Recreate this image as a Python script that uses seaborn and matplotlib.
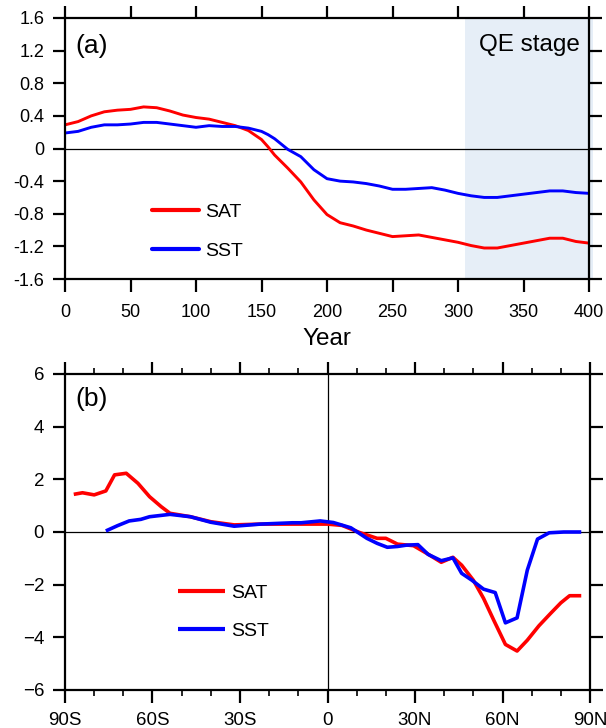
import numpy as np
import pandas as pd
import matplotlib
matplotlib.use("Agg")
import matplotlib.pyplot as plt
import seaborn as sns

# ---------------- data ----------------
years = [0, 10, 20, 30, 40, 50, 60, 70, 80, 90, 100, 110, 120, 130, 140, 150, 155,
         160, 170, 180, 190, 200, 210, 220, 230, 240, 250, 260, 270, 280, 290, 300,
         310, 320, 330, 340, 350, 360, 370, 380, 390, 400]
sat_a = [0.29, 0.33, 0.40, 0.45, 0.47, 0.48, 0.51, 0.50, 0.46, 0.41, 0.38, 0.36, 0.32,
         0.28, 0.22, 0.11, 0.02, -0.08, -0.24, -0.41, -0.63, -0.81, -0.91, -0.95, -1.00,
         -1.04, -1.08, -1.07, -1.06, -1.09, -1.12, -1.15, -1.19, -1.22, -1.22, -1.19,
         -1.16, -1.13, -1.10, -1.10, -1.14, -1.16]
sst_a = [0.19, 0.21, 0.26, 0.29, 0.29, 0.30, 0.32, 0.32, 0.30, 0.28, 0.26, 0.28, 0.27,
         0.27, 0.25, 0.21, 0.17, 0.12, -0.01, -0.10, -0.26, -0.37, -0.40, -0.41, -0.43,
         -0.46, -0.50, -0.50, -0.49, -0.48, -0.51, -0.55, -0.58, -0.60, -0.60, -0.58,
         -0.56, -0.54, -0.52, -0.52, -0.54, -0.55]

lat_sat = [-87, -84, -80, -76, -73, -69, -65, -61, -57, -54, -47, -40, -32, -23, -12, 0,
           5, 11, 17, 20, 24, 29.5, 34, 39, 43, 46, 50, 53.5, 57, 61, 65, 68.5, 72.5,
           76.5, 80, 83, 87]
sat_b = [1.43, 1.49, 1.41, 1.56, 2.17, 2.23, 1.85, 1.34, 0.96, 0.71, 0.58, 0.39, 0.27,
         0.30, 0.30, 0.30, 0.25, -0.02, -0.24, -0.24, -0.46, -0.52, -0.81, -1.15, -0.96,
         -1.26, -1.83, -2.52, -3.35, -4.27, -4.52, -4.11, -3.56, -3.09, -2.69, -2.42, -2.42]
lat_sst = [-76, -72, -68, -64, -61, -54, -47, -40, -32, -23, -12, -9, -2.5, 2, 8, 13.5,
           17, 20.5, 24, 27, 31, 34.5, 39, 43, 46, 49.5, 53.5, 57.5, 61, 65, 68.5, 72,
           76, 81, 87]
sst_b = [0.04, 0.24, 0.42, 0.48, 0.58, 0.67, 0.58, 0.37, 0.22, 0.30, 0.35, 0.35, 0.42,
         0.36, 0.16, -0.24, -0.43, -0.58, -0.55, -0.50, -0.48, -0.85, -1.09, -0.98,
         -1.57, -1.83, -2.17, -2.30, -3.45, -3.26, -1.45, -0.27, -0.03, 0.0, 0.0]

series_names = ["SAT", "SST"]
colors = {"SAT": "#ff0000", "SST": "#0000ff"}
qe_start, qe_end = 305, 403

yticks_a = [1.6, 1.2, 0.8, 0.4, 0, -0.4, -0.8, -1.2, -1.6]
ytick_labels_a = ["1.6", "1.2", "0.8", "0.4", "0", "-0.4", "-0.8", "-1.2", "-1.6"]
xticks_a = [0, 50, 100, 150, 200, 250, 300, 350, 400]
yticks_b = [6, 4, 2, 0, -2, -4, -6]
xticks_b = [-90, -60, -30, 0, 30, 60, 90]
xtick_labels_b = ["90S", "60S", "30S", "0", "30N", "60N", "90N"]

# ---------------- style ----------------
sns.set_theme(style="ticks")
plt.rcParams["font.family"] = ["Liberation Sans", "DejaVu Sans"]
plt.rcParams["text.color"] = "black"
plt.rcParams["axes.labelcolor"] = "black"
plt.rcParams["xtick.color"] = "black"
plt.rcParams["ytick.color"] = "black"

df_a = pd.concat([
    pd.DataFrame({"x": years, "y": sat_a, "var": "SAT"}),
    pd.DataFrame({"x": years, "y": sst_a, "var": "SST"}),
])
df_b = pd.concat([
    pd.DataFrame({"x": lat_sat, "y": sat_b, "var": "SAT"}),
    pd.DataFrame({"x": lat_sst, "y": sst_b, "var": "SST"}),
])

fig = plt.figure(figsize=(6.06, 7.28), dpi=100)
ax1 = fig.add_axes([65/606, 1-279/728, 524/606, 261/728])
ax2 = fig.add_axes([65/606, 1-690/728, 525/606, 316/728])

def style_axes(ax, size, xpad):
    for s in ax.spines.values():
        s.set_linewidth(1.6)
        s.set_color("black")
        s.set_visible(True)
    ax.tick_params(which="major", direction="out", length=9, width=1.6,
                   top=True, right=True, labeltop=False, labelright=False,
                   labelsize=size, colors="black")
    ax.tick_params(axis="x", which="major", pad=xpad)
    ax.tick_params(axis="y", which="major", pad=6)
    ax.tick_params(which="minor", direction="out", length=4.5, width=1.2,
                   top=True, right=True)

# ---- panel (a)
ax1.axvspan(qe_start, qe_end, color="#e6eef7", zorder=0, lw=0, clip_on=False)
sns.lineplot(data=df_a, x="x", y="y", hue="var", palette=colors, hue_order=series_names,
             ax=ax1, linewidth=2.1, estimator=None, sort=True)
ax1.axhline(0, color="black", lw=0.9, zorder=1)
ax1.set_xlim(0, 400)
ax1.set_ylim(-1.6, 1.6)
ax1.set_xticks(xticks_a)
ax1.set_yticks(yticks_a)
ax1.set_yticklabels(ytick_labels_a)
ax1.set_xlabel("Year", fontsize=17.5, labelpad=5)
ax1.set_ylabel("")
style_axes(ax1, 13, 9)
ax1.text(0.02, 0.94, "(a)", transform=ax1.transAxes, fontsize=19, va="top", ha="left")
ax1.text(0.983, 0.94, "QE stage", transform=ax1.transAxes, fontsize=17.5, va="top", ha="right")
leg = ax1.legend(loc="upper left", bbox_to_anchor=(0.166, 0.29), frameon=False,
                 fontsize=14, handlelength=2.4, handletextpad=0.35, labelspacing=1.1,
                 borderpad=0, borderaxespad=0)
for h in leg.get_lines():
    h.set_linewidth(3.0)

# ---- panel (b)
sns.lineplot(data=df_b, x="x", y="y", hue="var", palette=colors, hue_order=series_names,
             ax=ax2, linewidth=2.6, estimator=None, sort=True)
for ln in ax2.get_lines():
    ln.set_solid_capstyle("butt")
ax2.axhline(0, color="black", lw=0.9, zorder=1)
ax2.axvline(0, color="black", lw=0.9, zorder=1)
ax2.set_xlim(-90, 90)
ax2.set_ylim(-6, 6)
ax2.set_xticks(xticks_b)
ax2.set_xticklabels(xtick_labels_b)
ax2.set_xticks(np.arange(-90, 91, 10), minor=True)
ax2.set_yticks(yticks_b)
ax2.set_xlabel("")
ax2.set_ylabel("")
style_axes(ax2, 13.5, 7)
ax2.text(0.02, 0.96, "(b)", transform=ax2.transAxes, fontsize=19, va="top", ha="left")
leg2 = ax2.legend(loc="upper left", bbox_to_anchor=(0.215, 0.335), frameon=False,
                  fontsize=14, handlelength=2.4, handletextpad=0.35, labelspacing=1.05,
                  borderpad=0, borderaxespad=0)
for h in leg2.get_lines():
    h.set_linewidth(3.0)

fig.savefig("out.png", dpi=100)
